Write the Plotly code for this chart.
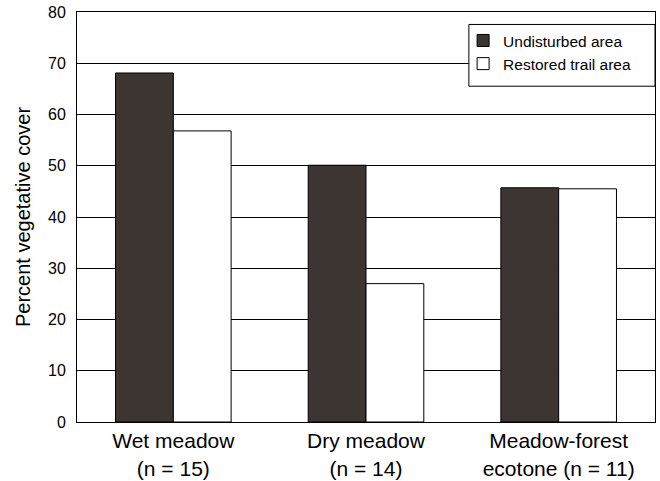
import plotly.graph_objects as go

categories = ["Wet meadow<br>(n = 15)", "Dry meadow<br>(n = 14)", "Meadow-forest<br>ecotone (n = 11)"]
undisturbed = [68.1, 50.1, 45.7]
restored = [56.8, 27.0, 45.5]
series_names = ["Undisturbed area", "Restored trail area"]

fig = go.Figure()
fig.add_trace(go.Bar(x=categories, y=undisturbed, name=series_names[0],
                     marker=dict(color="#3d3531", line=dict(color="black", width=1))))
fig.add_trace(go.Bar(x=categories, y=restored, name=series_names[1],
                     marker=dict(color="white", line=dict(color="black", width=1))))

fig.update_layout(
    width=660, height=481,
    margin=dict(l=77, r=5, t=12, b=58.5),
    paper_bgcolor="white", plot_bgcolor="white",
    font=dict(family="Liberation Sans, Arial", color="black", size=15),
    barmode="group", bargap=0.4, bargroupgap=0,
    legend=dict(x=0.668, y=0.971, xanchor="left", yanchor="top",
                bgcolor="rgba(0,0,0,0)", borderwidth=0,
                font=dict(size=15.5), tracegroupgap=0),
    showlegend=True,
    # legend frame box (reaches the right edge of the plot frame)
    shapes=[dict(type="rect", xref="paper", yref="paper",
                 x0=0.678, x1=1.0, y0=0.819, y1=0.9696,
                 fillcolor="white", line=dict(color="black", width=1), layer="above")],
)
fig.update_yaxes(range=[0, 80], dtick=10, showgrid=True, gridcolor="black", gridwidth=1,
                 showline=True, linecolor="black", linewidth=1, mirror=True,
                 ticks="", ticklabelstandoff=7, tickfont=dict(size=16),
                 title=dict(text="Percent vegetative cover", font=dict(size=20), standoff=12),
                 zeroline=False, automargin=False)
fig.update_xaxes(showline=True, linecolor="black", linewidth=1, mirror=True,
                 ticks="", tickfont=dict(size=21), automargin=False)

fig.write_html("out.html", config={"displayModeBar": False},
               post_script="document.body.style.margin='0';")
